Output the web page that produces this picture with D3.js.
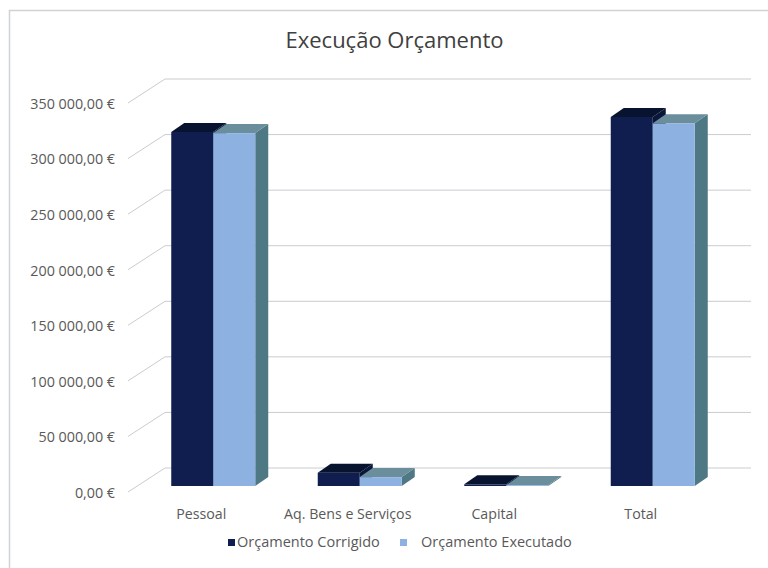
<!DOCTYPE html>
<html><head><meta charset="utf-8">
<script src="https://cdn.jsdelivr.net/npm/d3@7"></script>
<style>html,body{margin:0;padding:0;background:#fff;}svg{display:block;}</style>
</head><body>
<svg id="c" width="768" height="568"></svg>
<script>
const categories = ["Pessoal", "Aq. Bens e Serviços", "Capital", "Total"];
const seriesNames = ["Orçamento Corrigido", "Orçamento Executado"];
const corrigido = [318500, 12000, 1500, 332000];
const executado = [317500, 8000, 800, 326300];
const tickValues = [0, 50000, 100000, 150000, 200000, 250000, 300000, 350000];
const tickLabels = ["0,00 €", "50 000,00 €", "100 000,00 €", "150 000,00 €", "200 000,00 €", "250 000,00 €", "300 000,00 €", "350 000,00 €"];
const title = "Execução Orçamento";

const svg = d3.select("#c");
const font = "'Open Sans', 'DejaVu Sans', sans-serif";

// chart border
svg.append("path").attr("d", "M9.5,568 V10.5 H768").attr("fill", "none").attr("stroke", "#cfd2d6").attr("stroke-width", 1.5);

// 3D oblique projection for the plot
const DX = 37, DY = -24; // full depth offset
const y = d3.scaleLinear().domain([0, 350000]).range([492, 103]);
const x = d3.scaleBand().domain(categories).range([128, 714]);
const xs = d3.scaleBand().domain(seriesNames).range([0, 84]);

const g = svg.append("g");
tickValues.forEach(v => {
  const yf = y(v);
  g.append("line").attr("x1", 128).attr("y1", yf).attr("x2", 128 + DX).attr("y2", yf + DY)
    .attr("stroke", "#c9ccd0").attr("stroke-width", 1);
  g.append("line").attr("x1", 128 + DX).attr("y1", yf + DY).attr("x2", 751).attr("y2", yf + DY)
    .attr("stroke", "#c9ccd0").attr("stroke-width", 1);
});

// tick labels
svg.append("g").selectAll("text").data(tickValues).join("text")
  .attr("x", 115).attr("y", d => y(d) + 2)
  .attr("text-anchor", "end").attr("dominant-baseline", "middle")
  .attr("font-family", font).attr("font-size", 14.3).attr("fill", "#595959")
  .text((d, i) => tickLabels[i]);

// bars
const colors = {
  "Orçamento Corrigido": {front: "#0f1e4e", top: "#081330", side: "#0a1738"},
  "Orçamento Executado": {front: "#8db2e2", top: "#6a8e9b", side: "#4d7884"}
};
const bdx = 13, bdy = -9;
const shiftX = 12, shiftY = -6;
const bars = [];
categories.forEach((c, i) => {
  bars.push({c, s: seriesNames[0], v: corrigido[i]});
  bars.push({c, s: seriesNames[1], v: executado[i]});
});
const bg = svg.append("g");
bars.forEach(b => {
  const x0 = x(b.c) + (x.bandwidth() - 84) / 2 + xs(b.s) + shiftX;
  const w = xs.bandwidth();
  const y0 = y(0) + shiftY;
  const y1 = y(b.v) + shiftY;
  const col = colors[b.s];
  const grp = bg.append("g");
  grp.append("path").attr("d", `M${x0 + w},${y0} L${x0 + w + bdx},${y0 + bdy} L${x0 + w + bdx},${y1 + bdy} L${x0 + w},${y1} Z`).attr("fill", col.side);
  grp.append("rect").attr("x", x0).attr("y", y1).attr("width", w).attr("height", Math.max(0, y0 - y1)).attr("fill", col.front);
  grp.append("path").attr("d", `M${x0},${y1} L${x0 + bdx},${y1 + bdy} L${x0 + w + bdx},${y1 + bdy} L${x0 + w},${y1} Z`).attr("fill", col.top);
});

// category labels
svg.append("g").selectAll("text").data(categories).join("text")
  .attr("x", d => x(d) + x.bandwidth() / 2).attr("y", 519)
  .attr("text-anchor", "middle")
  .attr("font-family", font).attr("font-size", 14.2).attr("fill", "#595959")
  .text(d => d);

// title
svg.append("text").attr("x", 394.5).attr("y", 48).attr("text-anchor", "middle")
  .attr("font-family", font).attr("font-size", 22).attr("fill", "#404040").text(title);

// legend
const legendX = [228, 400];
const textX = [237, 421];
const lg = svg.append("g");
seriesNames.forEach((s, i) => {
  lg.append("rect").attr("x", legendX[i]).attr("y", 539).attr("width", 7).attr("height", 7).attr("fill", colors[s].front);
  lg.append("text").attr("x", textX[i]).attr("y", 547)
    .attr("font-family", font).attr("font-size", 14.5).attr("fill", "#595959").text(s);
});
</script>
</body></html>
